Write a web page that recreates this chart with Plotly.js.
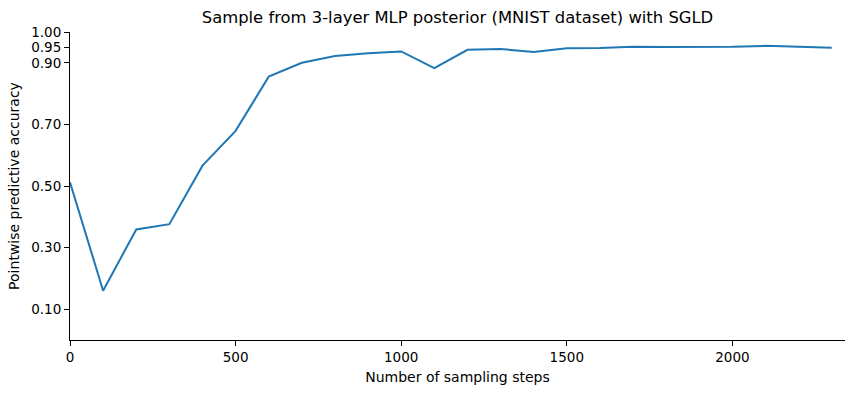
<!DOCTYPE html>
<html>
<head>
<meta charset="utf-8">
<script src="https://cdn.plot.ly/plotly-3.0.1.min.js"></script>
<style>html,body{margin:0;padding:0;background:#fff;}#chart{width:855px;height:393px;}</style>
</head>
<body>
<div id="chart"></div>
<script>
const steps = [0,100,200,300,400,500,600,700,800,900,1000,1100,1200,1300,1400,1500,1600,1700,1800,1900,2000,2100,2200,2300];
const accuracy = [0.512,0.160,0.359,0.376,0.566,0.679,0.855,0.900,0.922,0.931,0.937,0.883,0.942,0.945,0.935,0.947,0.948,0.952,0.951,0.951,0.952,0.955,0.951,0.949];
const yTickVals = [0.10,0.30,0.50,0.70,0.90,0.95,1.00];
const yTickText = ["0.10","0.30","0.50","0.70","0.90","0.95","1.00"];
const xTickVals = [0,500,1000,1500,2000];
const xTickText = ["0","500","1000","1500","2000"];

const font = {family: "DejaVu Sans", color: "#000"};
Plotly.newPlot("chart", [{
  x: steps, y: accuracy, type: "scatter", mode: "lines",
  line: {color: "#1f77b4", width: 2}
}], {
  width: 855, height: 393,
  margin: {l: 70, r: 10, t: 32, b: 53},
  paper_bgcolor: "#fff", plot_bgcolor: "#fff",
  font: Object.assign({size: 14}, font),
  showlegend: false,
  title: {text: "Sample from 3-layer MLP posterior (MNIST dataset) with SGLD", font: Object.assign({size: 16.4}, font), xref: "paper", x: 0.5, xanchor: "center", yref: "container", y: 0.955, yanchor: "middle"},
  xaxis: {
    range: [0, 2340], showgrid: false, zeroline: false,
    showline: true, linecolor: "#000", linewidth: 1,
    ticks: "outside", ticklen: 5, tickcolor: "#000", tickwidth: 1,
    tickvals: xTickVals, ticktext: xTickText, tickfont: Object.assign({size: 13.5}, font),
    title: {text: "Number of sampling steps", font: Object.assign({size: 14}, font), standoff: 7}
  },
  yaxis: {
    range: [0, 1], showgrid: false, zeroline: false,
    showline: true, linecolor: "#000", linewidth: 1,
    ticks: "outside", ticklen: 5, tickcolor: "#000", tickwidth: 1,
    tickvals: yTickVals, ticktext: yTickText, tickfont: Object.assign({size: 13.5}, font),
    title: {text: "Pointwise predictive accuracy", font: Object.assign({size: 14}, font), standoff: 8}
  }
}, {staticPlot: true});
</script>
</body>
</html>
